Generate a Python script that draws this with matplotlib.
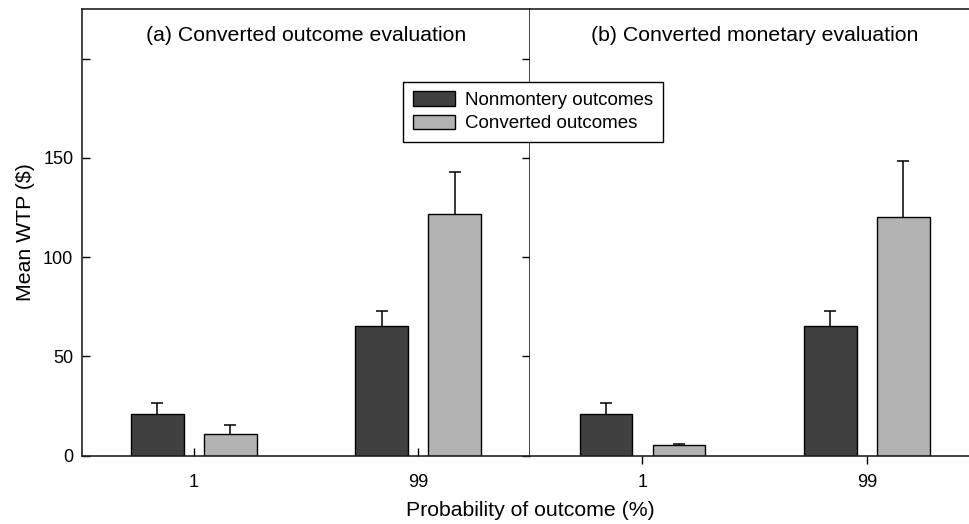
import numpy as np
import matplotlib
matplotlib.use('Agg')
import matplotlib.pyplot as plt

plt.rcParams['font.family'] = ['Liberation Sans', 'DejaVu Sans']

# Mean WTP ($) per probability condition, with upper error bars
probs = ['1', '99']
series = ['Nonmontery outcomes', 'Converted outcomes']
panel_titles = ['(a) Converted outcome evaluation',
                '(b) Converted monetary evaluation']

outcome_nonmon = [21.1, 65.3]
outcome_nonmon_err = [5.6, 7.7]
outcome_conv = [10.9, 121.6]
outcome_conv_err = [4.5, 21.3]

monetary_nonmon = [21.1, 65.3]
monetary_nonmon_err = [5.6, 7.7]
monetary_conv = [5.5, 120.1]
monetary_conv_err = [0.5, 28.1]

colores = ['#404040', '#b3b3b3']

fig = plt.figure(figsize=(9.69, 5.24), dpi=100)
ax_a = fig.add_axes([0.0843, 0.1303, 0.4630, 0.8525])
ax_b = fig.add_axes([0.5473, 0.1303, 0.4630, 0.8525])

x = np.arange(len(probs))
ancho = 0.235
desp = 0.163


def barra_con_error(ax, pos, vals, errs, color):
    b = ax.bar(pos, vals, ancho, color=color, edgecolor='black',
               linewidth=1.0, zorder=2)
    eb = ax.errorbar(pos, vals, yerr=[np.zeros(len(errs)), errs], fmt='none',
                     ecolor='black', elinewidth=1.1, capsize=4.5,
                     capthick=1.1, zorder=1)
    # solo el tope superior
    eb[1][0].set_visible(False)
    return b


datos = [
    (ax_a, outcome_nonmon, outcome_nonmon_err, outcome_conv, outcome_conv_err),
    (ax_b, monetary_nonmon, monetary_nonmon_err, monetary_conv, monetary_conv_err),
]

barras = []
for i, (ax, v1, e1, v2, e2) in enumerate(datos):
    b1 = barra_con_error(ax, x - desp, v1, e1, colores[0])
    b2 = barra_con_error(ax, x + desp, v2, e2, colores[1])
    barras = [b1, b2]

    ax.set_xlim(-0.5, 1.5)
    ax.set_ylim(0, 225)
    ax.set_xticks(x)
    ax.set_xticklabels(probs, fontsize=13)
    ax.text(0.5, 0.9396, panel_titles[i], transform=ax.transAxes,
            ha='center', va='center', fontsize=15.3)
    for s in ax.spines.values():
        s.set_linewidth(1.2)
        s.set_color('#222222')

# panel (a): ticks inside on both vertical sides
ax_a.set_yticks([0, 50, 100, 150, 200])
ax_a.set_yticklabels(['0', '50', '100', '150', ''], fontsize=13)
ax_a.tick_params(axis='y', direction='in', length=5.5, width=1.0,
                 left=True, right=True, pad=6)
ax_a.tick_params(axis='x', direction='in', length=6, width=1.0, pad=13)
ax_a.set_ylabel('Mean WTP ($)', fontsize=15.3, labelpad=6)

# panel (b): shares the divider with (a), x ticks point down
ax_b.spines['left'].set_visible(False)
ax_b.spines['right'].set_visible(False)
ax_b.set_yticks([])
ax_b.tick_params(axis='x', direction='out', length=6, width=1.0, pad=7)

fig.text(530.5 / 969, 1 - 510 / 524, 'Probability of outcome (%)',
         ha='center', va='center', fontsize=15.3)

leg = fig.legend(barras, series, loc='upper left',
                 bbox_to_anchor=(403.3 / 969, 1 - 81.7 / 524),
                 fontsize=13.5, fancybox=False, framealpha=1,
                 edgecolor='black', borderaxespad=0, handlelength=2.26,
                 handleheight=0.83, handletextpad=0.55, labelspacing=0.3,
                 borderpad=0.5)
leg.get_frame().set_linewidth(1.0)

plt.savefig('out.png', dpi=100)
